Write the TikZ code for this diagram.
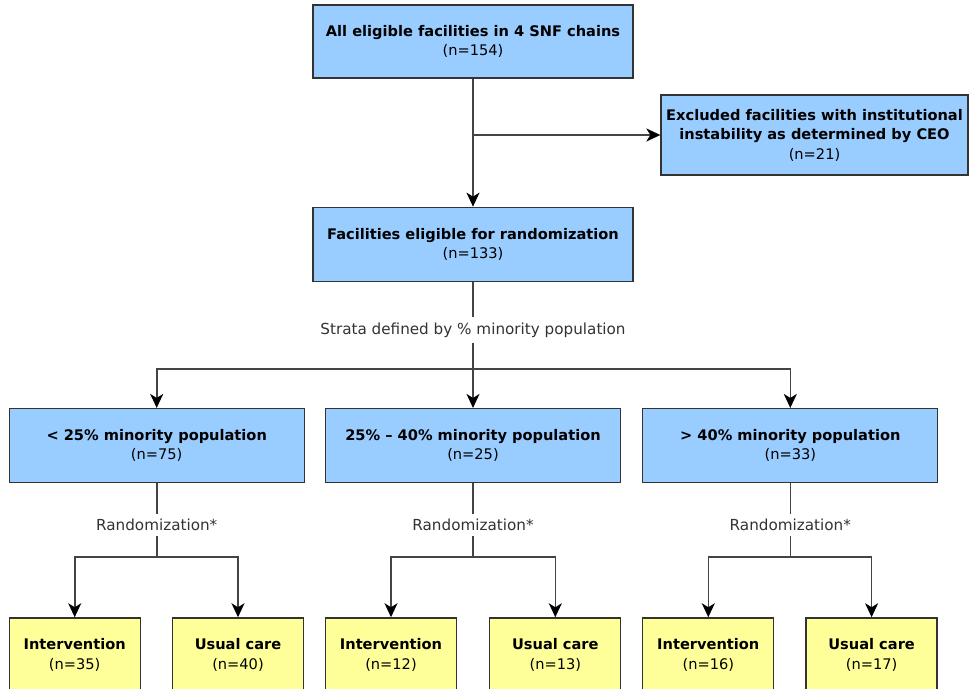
\documentclass[tikz,border=0pt]{standalone}
\usepackage{fontspec}
\setmainfont{DejaVu Sans}
\usetikzlibrary{positioning,arrows.meta}

\definecolor{boxblue}{HTML}{99CCFF}
\definecolor{boxyellow}{HTML}{FFFF99}
\definecolor{edgegray}{HTML}{333333}
\definecolor{linegray}{HTML}{444444}

\tikzset{
  box/.style={draw=edgegray, line width=1.3pt, fill=boxblue, align=center,
    font=\fontsize{14.6}{19.5}\selectfont\bfseries, text=black, inner sep=0pt},
  stratbox/.style={box, minimum width=295pt, minimum height=74pt},
  armbox/.style={box, fill=boxyellow, minimum width=131pt, minimum height=74pt},
  steplabel/.style={fill=white, text=edgegray, font=\fontsize{15.2}{18}\selectfont, inner sep=5pt},
  link/.style={draw=linegray, line width=1.6pt},
  arr/.style={link, -{Stealth[length=14pt,width=13pt,inset=4pt,color=black]}},
}

\begin{document}
\begin{tikzpicture}[x=1pt, y=-1pt, node distance=20pt]

    \useasboundingbox (0,0) rectangle (969,688);
    \clip (0,0) rectangle (969,688);

    % Define nodes
    \node[box, minimum width=320pt, minimum height=73pt] (all) at (473,41.5)
        {All eligible facilities in 4 SNF chains\\{\mdseries (n=154)}};
    \node[box, minimum width=307pt, minimum height=80pt] (excl) at (814.5,135)
        {Excluded facilities with institutional\\instability as determined by CEO\\{\mdseries (n=21)}};
    \node[box, minimum width=320pt, minimum height=74pt, below=128pt of all] (elig)
        {Facilities eligible for randomization\\{\mdseries (n=133)}};

    \node[steplabel] (strata) at (473,330) {Strata defined by \% minority population};
    \coordinate (split) at (473,369);

    \node[stratbox, below=126pt of elig]   (mid)  {25\% -- 40\% minority population\\{\mdseries (n=25)}};
    \node[stratbox, left=of mid]           (low)  {< 25\% minority population\\{\mdseries (n=75)}};
    \node[stratbox, right=21pt of mid]     (high) {> 40\% minority population\\{\mdseries (n=33)}};

    \coordinate (randrow) at (0,525);
    \coordinate (forkrow) at (0,557);
    \node[steplabel] (rlow)  at (low |- randrow)  {Randomization*};
    \node[steplabel] (rmid)  at (mid |- randrow)  {Randomization*};
    \node[steplabel] (rhigh) at (high |- randrow) {Randomization*};
    \coordinate (flow)  at (low |- forkrow);
    \coordinate (fmid)  at (mid |- forkrow);
    \coordinate (fhigh) at (high |- forkrow);

    \node[armbox, below=134pt of low.south west, anchor=north west]  (ilow)  {Intervention\\{\mdseries (n=35)}};
    \node[armbox, right=31pt of ilow]                                 (clow)  {Usual care\\{\mdseries (n=40)}};
    \node[armbox, below=134pt of mid.south west, anchor=north west]  (imid)  {Intervention\\{\mdseries (n=12)}};
    \node[armbox, right=32pt of imid]                                 (cmid)  {Usual care\\{\mdseries (n=13)}};
    \node[armbox, below=134pt of high.south west, anchor=north west] (ihigh) {Intervention\\{\mdseries (n=16)}};
    \node[armbox, right=31pt of ihigh]                                (chigh) {Usual care\\{\mdseries (n=17)}};

    % Connect the nodes
    \coordinate (branch) at (all |- excl);
    \draw[arr] (all) -- (elig);
    \draw[arr] (branch) -- (excl);

    \draw[link] (elig) -- (strata);
    \draw[link] (strata) -- (split);
    \draw[arr] (split) -| (low);
    \draw[arr] (split) -- (mid);
    \draw[arr] (split) -| (high);

    \draw[link] (low) -- (rlow);
    \draw[link] (rlow) -- (flow);
    \draw[arr] (flow) -| (ilow);
    \draw[arr] (flow) -| (clow);

    \draw[link] (mid) -- (rmid);
    \draw[link] (rmid) -- (fmid);
    \draw[arr] (fmid) -| (imid);
    \draw[arr] (fmid) -| (cmid);

    \draw[link] (high) -- (rhigh);
    \draw[link] (rhigh) -- (fhigh);
    \draw[arr] (fhigh) -| (ihigh);
    \draw[arr] (fhigh) -| (chigh);

\end{tikzpicture}
\end{document}
